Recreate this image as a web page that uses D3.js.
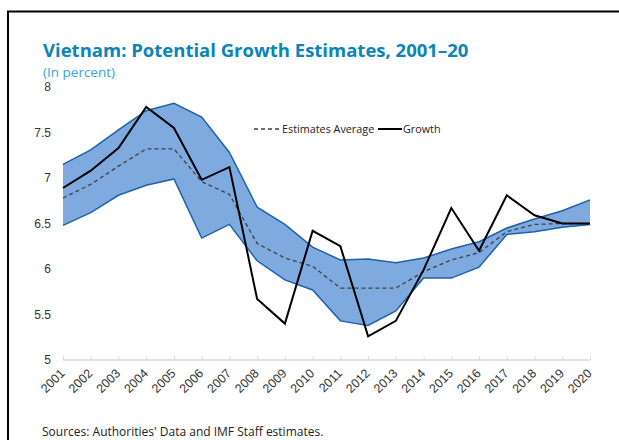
<!DOCTYPE html>
<html lang="en">
<head>
    <title>Vietnam: Potential Growth Estimates</title>
    <script src="https://cdnjs.cloudflare.com/ajax/libs/d3/7.8.5/d3.min.js"></script>
    <style>
        body { margin: 0; background: #fff; }
        svg { display: block; font-family: "Open Sans", sans-serif; }
        .tick text { fill: #333; }
    </style>
</head>
<body>
    <svg width="619" height="440"></svg>

    <script>
        // data
        const years = ["2001","2002","2003","2004","2005","2006","2007","2008","2009","2010",
                       "2011","2012","2013","2014","2015","2016","2017","2018","2019","2020"];
        const upper = [7.15, 7.31, 7.53, 7.74, 7.82, 7.67, 7.28, 6.68, 6.49, 6.24,
                       6.10, 6.11, 6.07, 6.12, 6.22, 6.30, 6.45, 6.55, 6.64, 6.76];
        const lower = [6.48, 6.62, 6.81, 6.92, 6.99, 6.34, 6.49, 6.09, 5.88, 5.77,
                       5.43, 5.38, 5.54, 5.90, 5.90, 6.02, 6.38, 6.41, 6.46, 6.49];
        const average = [6.78, 6.93, 7.13, 7.32, 7.32, 6.96, 6.82, 6.28, 6.12, 6.03,
                         5.79, 5.79, 5.79, 5.97, 6.10, 6.18, 6.41, 6.49, 6.50, 6.50];
        const growth = [6.89, 7.08, 7.33, 7.78, 7.55, 6.98, 7.12, 5.67, 5.40, 6.42,
                        6.25, 5.26, 5.43, 5.99, 6.67, 6.20, 6.81, 6.59, 6.50, 6.50];
        const yTicks = [5, 5.5, 6, 6.5, 7, 7.5, 8];

        const svg = d3.select("svg");

        // frame
        svg.append("path")
            .attr("d", "M8,440 V11.5 H619")
            .attr("fill", "none")
            .attr("stroke", "#000")
            .attr("stroke-width", 2);

        svg.append("text")
            .attr("x", 43).attr("y", 57)
            .attr("fill", "#0b84b8")
            .style("font-size", "18.5px")
            .style("font-weight", "bold")
            .text("Vietnam: Potential Growth Estimates, 2001–20");

        svg.append("text")
            .attr("x", 43).attr("y", 77)
            .attr("fill", "#3aa3d6")
            .style("font-size", "13.5px")
            .text("(In percent)");

        const x = d3.scalePoint().domain(years).range([63, 590]);
        const y = d3.scaleLinear().domain([5, 8]).range([360, 87]);

        const rows = years.map((yr, i) => ({
            year: yr, upper: upper[i], lower: lower[i], average: average[i], growth: growth[i]
        }));

        // x axis
        const xAxis = svg.append("g")
            .attr("transform", "translate(0,360)")
            .call(d3.axisBottom(x).tickSize(-4));
        xAxis.select(".domain").attr("stroke", "#d9d9d9").attr("stroke-width", 1.5)
            .attr("d", "M63,0H590");
        xAxis.selectAll(".tick line").attr("stroke", "#d9d9d9");
        xAxis.selectAll(".tick text")
            .style("font-size", "12.5px")
            .attr("text-anchor", "end")
            .attr("x", 0).attr("y", 0)
            .attr("dx", 0)
            .attr("dy", "0.35em")
            .attr("transform", "translate(-1,11) rotate(-45)");

        // y axis labels only
        const yAxis = svg.append("g")
            .attr("transform", "translate(51,0)")
            .call(d3.axisLeft(y).tickValues(yTicks).tickSize(0).tickPadding(0)
                .tickFormat(d3.format("")));
        yAxis.select(".domain").remove();
        yAxis.selectAll(".tick text").style("font-size", "12px");

        // band
        svg.append("path")
            .datum(rows)
            .attr("fill", "#7eaadf")
            .attr("d", d3.area()
                .x(d => x(d.year))
                .y0(d => y(d.lower))
                .y1(d => y(d.upper)));

        const line = key => d3.line().x(d => x(d.year)).y(d => y(d[key]));

        ["upper", "lower"].forEach(k => {
            svg.append("path")
                .datum(rows)
                .attr("fill", "none")
                .attr("stroke", "#1d62ab")
                .attr("stroke-width", 1.5)
                .attr("d", line(k));
        });

        svg.append("path")
            .datum(rows)
            .attr("fill", "none")
            .attr("stroke", "#404040")
            .attr("stroke-width", 1.3)
            .attr("stroke-dasharray", "4,3")
            .attr("d", line("average"));

        svg.append("path")
            .datum(rows)
            .attr("fill", "none")
            .attr("stroke", "#000")
            .attr("stroke-width", 2)
            .attr("d", line("growth"));

        // legend
        const legend = svg.append("g").style("font-size", "10.8px").attr("fill", "#222");
        legend.append("line")
            .attr("x1", 254).attr("x2", 280).attr("y1", 129).attr("y2", 129)
            .attr("stroke", "#404040").attr("stroke-width", 1.3)
            .attr("stroke-dasharray", "4,3");
        legend.append("text").attr("x", 282).attr("y", 133).text("Estimates Average");
        legend.append("line")
            .attr("x1", 378).attr("x2", 402).attr("y1", 129).attr("y2", 129)
            .attr("stroke", "#000").attr("stroke-width", 2);
        legend.append("text").attr("x", 403).attr("y", 133).text("Growth");

        svg.append("text")
            .attr("x", 42).attr("y", 436)
            .attr("fill", "#222")
            .style("font-size", "12px")
            .text("Sources: Authorities' Data and IMF Staff estimates.");
    </script>
</body>
</html>
